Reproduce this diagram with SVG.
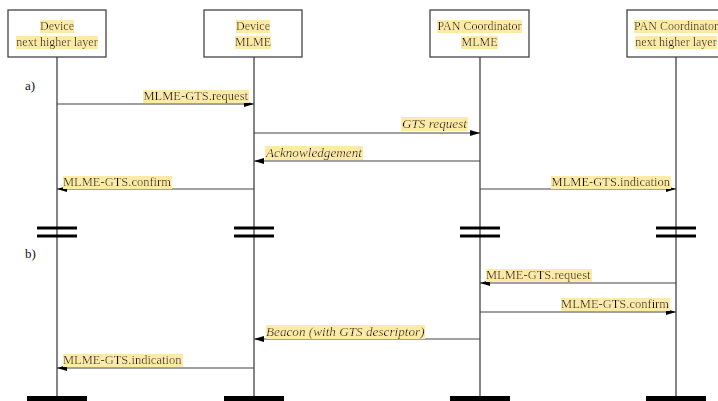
<svg xmlns="http://www.w3.org/2000/svg" width="718" height="401" viewBox="0 0 718 401">
<defs>
<filter id="hl" x="0" y="0.08" width="1" height="0.86">
<feFlood flood-color="#fdeaa6"/>
<feComposite in="SourceGraphic" operator="over"/>
</filter>
<marker id="ah" viewBox="0 0 10 6" refX="10" refY="3" markerWidth="10" markerHeight="6" markerUnits="userSpaceOnUse" orient="auto">
<path d="M0,0 L10,3 L0,6 Z" fill="#000"/>
</marker>
<style>
.box{fill:#fff;stroke:#444;stroke-width:1.3}
.life{stroke:#333;stroke-width:1.2;fill:none}
.msg{stroke:#444;stroke-width:1.2;fill:none;marker-end:url(#ah)}
.brk{stroke:#000;stroke-width:3}
.end{fill:#000}
text{font-family:"Liberation Serif","Times New Roman",serif;fill:#111}
.t{font-size:12px;text-anchor:middle;filter:url(#hl)}
.m{font-size:12.5px;filter:url(#hl)}
.i{font-size:13.2px;font-style:italic;filter:url(#hl)}
.r{text-anchor:end}
.lbl{font-size:13px}
</style>
</defs>
<rect width="718" height="401" fill="#fff"/>
<g id="lifelines">
<line class="life" x1="57" y1="57" x2="57" y2="397"/>
<line class="life" x1="254" y1="57" x2="254" y2="397"/>
<line class="life" x1="480" y1="57" x2="480" y2="397"/>
<line class="life" x1="676" y1="57" x2="676" y2="397"/>
</g>
<g id="n1"><rect class="box" x="8" y="10" width="98" height="47"/><text class="t" x="57" y="30">Device</text><text class="t" x="57" y="46">next higher layer</text></g>
<g id="n2"><rect class="box" x="204" y="10" width="98" height="47"/><text class="t" x="253" y="30">Device</text><text class="t" x="253" y="46">MLME</text></g>
<g id="n3"><rect class="box" x="430" y="10" width="99" height="47"/><text class="t" x="479.5" y="30">PAN Coordinator</text><text class="t" x="479.5" y="46">MLME</text></g>
<g id="n4"><rect class="box" x="627" y="10" width="98" height="47"/><text class="t" x="676" y="30">PAN Coordinator</text><text class="t" x="676" y="46">next higher layer</text></g>
<g id="breaks">
<path class="brk" d="M37,228H77M37,236H77M234,228H274M234,236H274M460,228H500M460,236H500M656,228H696M656,236H696"/>
<rect class="end" x="27" y="396" width="60" height="5"/>
<rect class="end" x="224" y="396" width="60" height="5"/>
<rect class="end" x="450" y="396" width="60" height="5"/>
<rect class="end" x="646" y="396" width="60" height="5"/>
</g>
<text class="lbl" x="25" y="90">a)</text>
<text class="lbl" x="25" y="258">b)</text>
<g id="connectors">
<line class="msg" x1="57" y1="104" x2="254" y2="104"/>
<line class="msg" x1="254" y1="133" x2="480" y2="133"/>
<line class="msg" x1="480" y1="161" x2="254" y2="161"/>
<line class="msg" x1="254" y1="189" x2="57" y2="189"/>
<line class="msg" x1="480" y1="189" x2="676" y2="189"/>
<line class="msg" x1="676" y1="283" x2="480" y2="283"/>
<line class="msg" x1="480" y1="312" x2="676" y2="312"/>
<line class="msg" x1="480" y1="339" x2="254" y2="339"/>
<line class="msg" x1="254" y1="368" x2="57" y2="368"/>
</g>
<g id="labels">
<text class="m r" x="248" y="100">MLME-GTS.request</text>
<text class="i r" x="467" y="128">GTS request</text>
<text class="i" x="266" y="157">Acknowledgement</text>
<text class="m" x="63" y="186">MLME-GTS.confirm</text>
<text class="m r" x="670" y="186">MLME-GTS.indication</text>
<text class="m" x="486" y="279">MLME-GTS.request</text>
<text class="m r" x="669" y="308">MLME-GTS.confirm</text>
<text class="i" x="266" y="336">Beacon (with GTS descriptor)</text>
<text class="m" x="63" y="364">MLME-GTS.indication</text>
</g>
</svg>
